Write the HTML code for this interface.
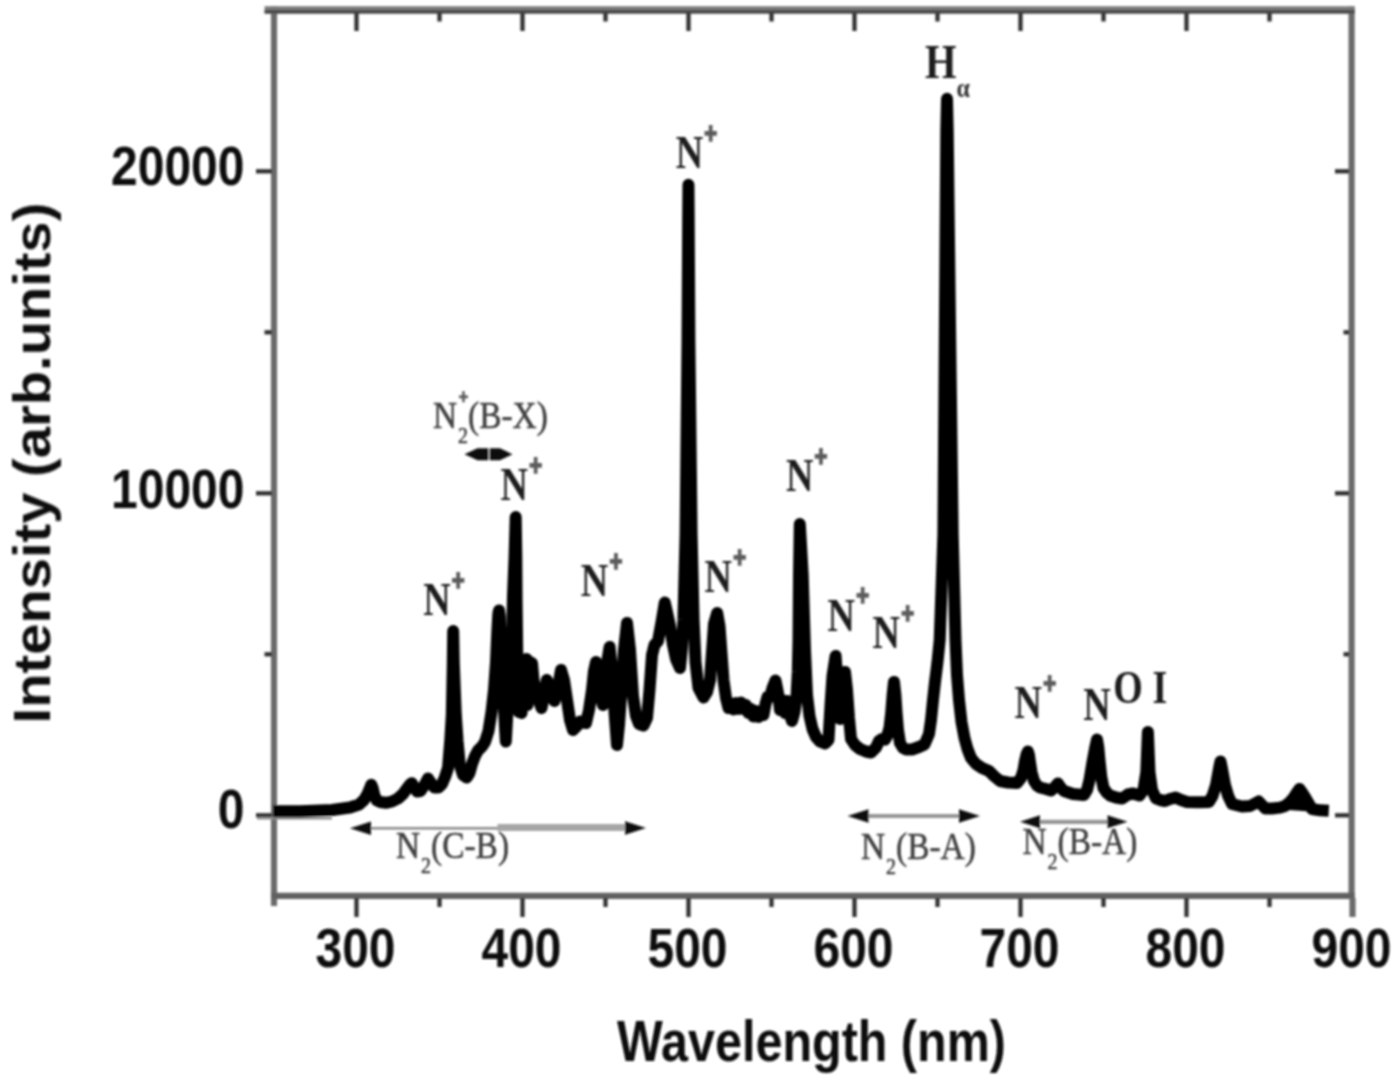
<!DOCTYPE html>
<html lang="en"><head><meta charset="utf-8"><title>Emission spectrum</title>
<style>html,body{margin:0;padding:0;background:#fff;}body{width:1400px;height:1082px;overflow:hidden;}svg{display:block;}.sans{font-family:"Liberation Sans",sans-serif;font-weight:bold;fill:#111;}.serif{font-family:"Liberation Serif",serif;}.pl{font-family:"Liberation Sans",sans-serif;font-weight:bold;fill:#5c5c5c;stroke:#5c5c5c;stroke-width:1.3px;text-anchor:middle;}</style></head><body>
<svg width="1400" height="1082" viewBox="0 0 1400 1082">
<defs><filter id="soft" x="-5%" y="-5%" width="110%" height="110%"><feGaussianBlur stdDeviation="1.1"/></filter></defs>
<rect width="1400" height="1082" fill="#fff"/>
<g filter="url(#soft)">
<g stroke="#6a6a6a" stroke-width="6.2" fill="none">
<line x1="274" y1="6.5" x2="274" y2="906"/>
<line x1="1351.6" y1="6.5" x2="1351.6" y2="898.9"/>
<line x1="271" y1="895.8" x2="1354.6" y2="895.8" stroke="#606060"/>
</g>
<line x1="264.6" y1="10" x2="1354.6" y2="10" stroke="#7a7a7a" stroke-width="7.4"/>
<line x1="264.6" y1="11.8" x2="1354.6" y2="11.8" stroke="#4a4a4a" stroke-width="3.6"/>
<g stroke="#303030" stroke-width="4.3">
<line x1="356.5" y1="13" x2="356.5" y2="31"/>
<line x1="356.5" y1="898" x2="356.5" y2="917"/>
<line x1="439.5" y1="13" x2="439.5" y2="21.5"/>
<line x1="439.5" y1="898" x2="439.5" y2="907"/>
<line x1="522.5" y1="13" x2="522.5" y2="31"/>
<line x1="522.5" y1="898" x2="522.5" y2="917"/>
<line x1="605.5" y1="13" x2="605.5" y2="21.5"/>
<line x1="605.5" y1="898" x2="605.5" y2="907"/>
<line x1="688.5" y1="13" x2="688.5" y2="31"/>
<line x1="688.5" y1="898" x2="688.5" y2="917"/>
<line x1="771.5" y1="13" x2="771.5" y2="21.5"/>
<line x1="771.5" y1="898" x2="771.5" y2="907"/>
<line x1="854.5" y1="13" x2="854.5" y2="31"/>
<line x1="854.5" y1="898" x2="854.5" y2="917"/>
<line x1="937.5" y1="13" x2="937.5" y2="21.5"/>
<line x1="937.5" y1="898" x2="937.5" y2="907"/>
<line x1="1020.5" y1="13" x2="1020.5" y2="31"/>
<line x1="1020.5" y1="898" x2="1020.5" y2="917"/>
<line x1="1103.5" y1="13" x2="1103.5" y2="21.5"/>
<line x1="1103.5" y1="898" x2="1103.5" y2="907"/>
<line x1="1186.5" y1="13" x2="1186.5" y2="31"/>
<line x1="1186.5" y1="898" x2="1186.5" y2="917"/>
<line x1="1269.5" y1="13" x2="1269.5" y2="21.5"/>
<line x1="1269.5" y1="898" x2="1269.5" y2="907"/>
<line x1="1352.5" y1="898" x2="1352.5" y2="917" stroke="#6a6a6a" stroke-width="6.2"/>
<line x1="256" y1="815.3" x2="272" y2="815.3"/>
<line x1="1335" y1="815.3" x2="1349" y2="815.3"/>
<line x1="264.5" y1="654.3" x2="272" y2="654.3"/>
<line x1="1343.5" y1="654.3" x2="1349" y2="654.3"/>
<line x1="256" y1="493.3" x2="272" y2="493.3"/>
<line x1="1335" y1="493.3" x2="1349" y2="493.3"/>
<line x1="264.5" y1="332.3" x2="272" y2="332.3"/>
<line x1="1343.5" y1="332.3" x2="1349" y2="332.3"/>
<line x1="256" y1="171.3" x2="272" y2="171.3"/>
<line x1="1335" y1="171.3" x2="1349" y2="171.3"/>
</g>
<line x1="257" y1="818.3" x2="332" y2="818.3" stroke="#8d8d8d" stroke-width="2.6"/>
<polyline points="273,811.2 300,811.2 332,810 350,807.5 359,804.5 364,800 367.5,794 370,788 371.3,784.8 372.6,788 374.5,796 377,800.5 380,802 386,802.8 392,801.5 398,798.5 403,794 407,788.5 410,784.5 411.8,783.2 414,787 417,791.5 420.5,791 424.5,785 428,778.5 431,783 434.5,787.5 438.5,787.5 442,784 445,777 448,768 450.3,740 451.8,715 452.8,663 453.2,631 453.8,663 455.8,715 457.6,741 459.8,765 463,775 466.7,777.5 469.5,773 472,764 475,756 478,750.5 482,746.5 485,742 488.5,731 491.5,712 494,690 496,662 497.3,632 498.3,614 499,610.5 499.8,616 500.3,632 501.3,660 503,690 504.6,720 505.8,741.5 507,720 508.7,690 510.8,660 512.2,630 513,596 514.6,556 515.7,517 516.3,556 516.6,600 517.2,650 518.2,690 519,712 521.5,713 523,690 524.5,668 526.5,659 527.3,690 527.6,705 528.5,690 530,662 532,663 533.5,680 535.5,692 538,698 541.5,708 544,695 546.8,680 549.5,686 552,697 554.5,701 557.5,690 561,670 564,680 567,700 570,720 573,730 577,726 580,721.5 586,723 589,710 592,690 594,671 596,662 598.5,675 601,698 603,705 605,690 607.5,660 609.6,647 612,670 614.6,713 617,745 619,725 621,696 624,650 627,623 630,650 633,696 636,716 639,724 643.5,725.5 647,718 649.5,690 652,655 654.5,645 658,641 661.5,622 664.8,602.6 667,612 670,626 673,645 676,659 680,668 681.8,650 683.4,620 685.6,534 687.5,340 688.2,215 688.45,184.7 688.7,215 689.4,340 691.6,534 693.6,620 695.5,662 698.5,688 703.5,697.5 707,692 710,680 712,652 714,624 717.2,613 719.5,626 721.5,653 723.5,680 726,698 728.5,708 731,703.5 733.5,709.5 736,703 738.5,709 741,702.5 743.5,709 746,705 748.5,713 751,709 753.5,716.5 756,711 758.5,717 761,711.5 763.5,715 765.5,704 767.5,697 770,697 772.5,688 775.5,680.5 778,693 780,710 782.5,700 785,713 787.5,701 790,715 792,721 794.5,712 796.5,697 797.8,672 798.5,640 799,575 799.8,524 801.2,548 802.7,575 805,650 807,695 809.5,716 812.5,729 816,737 820,741.5 825,743.5 828.5,740 830.5,705 832.5,676 835.6,656 838,690 840,719 842.5,690 845,672 847,690 849,718 851,739 855,745 860,749 866,751.5 871,752.5 876,747.5 879,741 882,739 885,739.5 887.5,735 889.5,728 891.2,713 892.6,695 894,682 895.4,695 896.6,713 898,730 900,743 903,748 906,749.5 912,749.5 919,747 924.5,744.5 929,734 931,720 933,700 935,682 937.5,662 939.7,640 943.4,534 944.8,340 946.3,130 947,98.8 947.7,130 950.2,340 952.7,534 955.5,640 957,675 959,700 961.5,722 964.5,738 967.5,749 971,758 976,764 982,768 989,771 994,776 1000,781 1008,782.5 1017,783 1021,778 1023.5,770 1025,761 1026.7,754 1027.9,751.5 1029,755 1029.8,761 1031.5,772 1034,781 1037,785.5 1040,787.5 1046,789 1051,790.5 1055,787 1058,783.5 1061,788 1064,791 1073,794 1084,795 1087,790 1089.5,780 1092.5,762 1095.3,747 1097,739.5 1098.3,747 1099.7,762 1101.3,777 1103.5,788 1107,793 1110,795.5 1116,797.5 1122,798.6 1128,794.5 1133,793.5 1139.5,795.5 1143.5,790 1146.3,772 1147.9,732 1149.5,772 1152,790 1156,798.5 1160,800 1165,801 1170,799 1175.5,797.6 1181,800 1187,802 1198,802.3 1208.8,802 1212.5,796 1216,785 1219.3,767 1220.5,761.5 1221.7,767 1225,785 1228.2,796 1232,804 1236,805 1242,806.5 1250,806 1254,804 1258.7,801.5 1262,805 1265.3,808.5 1272,808.5 1280,807.6 1285,806 1289.5,802.5 1293.5,798 1297,792.5 1299.5,789 1302,792.5 1305.5,798 1309,804 1312,809 1320,810.3 1328.8,810.8" fill="none" stroke="#000" stroke-width="12" stroke-linejoin="round" stroke-linecap="butt"/>
<line x1="1289" y1="804.5" x2="1310" y2="806" stroke="#000" stroke-width="11"/>
<text class="sans" transform="translate(355.5,967) scale(1,1.15)" font-size="48" text-anchor="middle" >300</text>
<text class="sans" transform="translate(521.5,967) scale(1,1.15)" font-size="48" text-anchor="middle" >400</text>
<text class="sans" transform="translate(687.5,967) scale(1,1.15)" font-size="48" text-anchor="middle" >500</text>
<text class="sans" transform="translate(853.5,967) scale(1,1.15)" font-size="48" text-anchor="middle" >600</text>
<text class="sans" transform="translate(1019.5,967) scale(1,1.15)" font-size="48" text-anchor="middle" >700</text>
<text class="sans" transform="translate(1185.5,967) scale(1,1.15)" font-size="48" text-anchor="middle" >800</text>
<text class="sans" transform="translate(1351.5,967) scale(1,1.15)" font-size="48" text-anchor="middle" >900</text>
<text class="sans" transform="translate(244.5,185.5) scale(1,1.15)" font-size="48" text-anchor="end" >20000</text>
<text class="sans" transform="translate(244.5,507.49999999999994) scale(1,1.15)" font-size="48" text-anchor="end" >10000</text>
<text class="sans" transform="translate(244.5,827.8) scale(1,1.15)" font-size="48" text-anchor="end" >0</text>
<text class="sans" transform="translate(811.5,1061.5) scale(1,1.17)" font-size="48.5" text-anchor="middle" >Wavelength (nm)</text>
<text class="sans" transform="translate(50,463) rotate(-90) scale(1.086,1)" font-size="51.7" text-anchor="middle">Intensity (arb.units)</text>
<text class="serif" transform="translate(689.4,168.4) scale(1,1.2)" font-size="38" font-weight="bold" fill="#1a1a1a" text-anchor="middle">N</text>
<text class="pl" transform="translate(710.8,143.0) scale(1,1.3)" font-size="22">+</text>
<text class="serif" transform="translate(436.9,615.0) scale(1,1.2)" font-size="38" font-weight="bold" fill="#1a1a1a" text-anchor="middle">N</text>
<text class="pl" transform="translate(458.29999999999995,589.6) scale(1,1.3)" font-size="22">+</text>
<text class="serif" transform="translate(514.3,500.4) scale(1,1.2)" font-size="38" font-weight="bold" fill="#1a1a1a" text-anchor="middle">N</text>
<text class="pl" transform="translate(535.6999999999999,475.0) scale(1,1.3)" font-size="22">+</text>
<text class="serif" transform="translate(594.5,596.4) scale(1,1.2)" font-size="38" font-weight="bold" fill="#1a1a1a" text-anchor="middle">N</text>
<text class="pl" transform="translate(615.9,571.0) scale(1,1.3)" font-size="22">+</text>
<text class="serif" transform="translate(718.2,592.4) scale(1,1.2)" font-size="38" font-weight="bold" fill="#1a1a1a" text-anchor="middle">N</text>
<text class="pl" transform="translate(739.6,567.0) scale(1,1.3)" font-size="22">+</text>
<text class="serif" transform="translate(799.6,491.0) scale(1,1.2)" font-size="38" font-weight="bold" fill="#1a1a1a" text-anchor="middle">N</text>
<text class="pl" transform="translate(821.0,465.6) scale(1,1.3)" font-size="22">+</text>
<text class="serif" transform="translate(841.2,630.6999999999999) scale(1,1.2)" font-size="38" font-weight="bold" fill="#1a1a1a" text-anchor="middle">N</text>
<text class="pl" transform="translate(862.6,605.3) scale(1,1.3)" font-size="22">+</text>
<text class="serif" transform="translate(886.2,648.4) scale(1,1.2)" font-size="38" font-weight="bold" fill="#1a1a1a" text-anchor="middle">N</text>
<text class="pl" transform="translate(907.6,623.0) scale(1,1.3)" font-size="22">+</text>
<text class="serif" transform="translate(1028.2,718.1) scale(1,1.2)" font-size="38" font-weight="bold" fill="#1a1a1a" text-anchor="middle">N</text>
<text class="pl" transform="translate(1049.6000000000001,692.7) scale(1,1.3)" font-size="22">+</text>
<text class="serif" transform="translate(1096.9,720.4) scale(1,1.2)" font-size="38" font-weight="bold" fill="#1a1a1a" text-anchor="middle">N</text>
<text class="serif" transform="translate(1128,703.4) scale(1,1.2)" font-size="38" font-weight="bold" fill="#1a1a1a" text-anchor="middle">O</text>
<text class="serif" transform="translate(1160,703.4) scale(1,1.2)" font-size="38" font-weight="bold" fill="#1a1a1a" text-anchor="middle">I</text>
<text class="serif" transform="translate(940.7,78.4) scale(1,1.2)" font-size="40.5" font-weight="bold" fill="#1a1a1a" text-anchor="middle">H</text>
<text class="serif" transform="translate(963.3,96.5) scale(1,1.1)" font-size="24" font-weight="bold" fill="#333" text-anchor="middle">α</text>
<text class="serif" transform="translate(433,428.2) scale(1,1.16)" font-size="33.4" fill="#404040" stroke="#404040" stroke-width="0.45">N<tspan font-size="20" dy="13" dx="1">2</tspan><tspan dy="-13">(B-X)</tspan></text>
<text class="pl" style="stroke-width:0.6px" transform="translate(463.5,403.7) scale(1,1.15)" font-size="17">+</text>
<text class="serif" transform="translate(396,857.5) scale(1,1.16)" font-size="33.4" fill="#404040" stroke="#404040" stroke-width="0.45">N<tspan font-size="20" dy="13" dx="1">2</tspan><tspan dy="-13">(C-B)</tspan></text>
<text class="serif" transform="translate(861,858.5) scale(1,1.16)" font-size="33.4" fill="#404040" stroke="#404040" stroke-width="0.45">N<tspan font-size="20" dy="13" dx="1">2</tspan><tspan dy="-13">(B-A)</tspan></text>
<text class="serif" transform="translate(1022.5,853.5) scale(1,1.16)" font-size="33.4" fill="#404040" stroke="#404040" stroke-width="0.45">N<tspan font-size="20" dy="13" dx="1">2</tspan><tspan dy="-13">(B-A)</tspan></text>
<polygon points="464.5,454.3 477.5,448.3 488.2,448.3 488.2,460.3 477.5,460.3" fill="#111"/>
<polygon points="512.5,454.3 500.0,448.3 489.8,448.3 489.8,460.3 500.0,460.3" fill="#111"/>
<line x1="370" y1="828.3" x2="498" y2="828.3" stroke="#8a8a8a" stroke-width="2.6"/>
<line x1="497.5" y1="827.6" x2="626" y2="827.6" stroke="#a6a6a6" stroke-width="7"/>
<polygon points="350,828.3 371,821.5 371,835.0999999999999" fill="#111"/>
<polygon points="646,828 625,821.2 625,834.8" fill="#111"/>
<line x1="866" y1="816" x2="962" y2="816" stroke="#969696" stroke-width="4.2"/>
<polygon points="847.5,816 868.5,809.2 868.5,822.8" fill="#111"/>
<polygon points="980,816 959,809.2 959,822.8" fill="#111"/>
<line x1="1038" y1="821.8" x2="1110" y2="821.8" stroke="#969696" stroke-width="4.2"/>
<polygon points="1020,821.8 1040,815.3 1040,828.3" fill="#111"/>
<polygon points="1127.5,821.8 1107.5,815.3 1107.5,828.3" fill="#111"/>
</g></svg></body></html>
